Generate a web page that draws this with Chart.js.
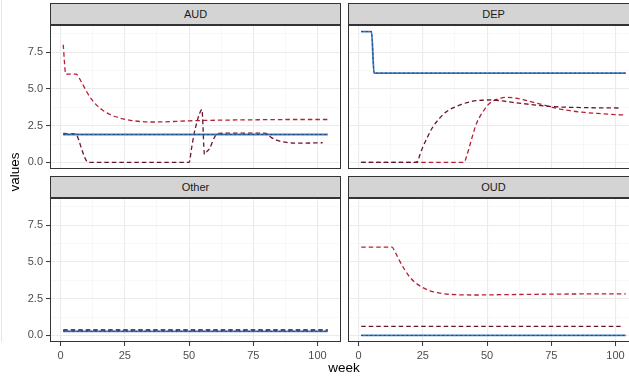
<!DOCTYPE html>
<html>
<head>
<meta charset="utf-8">
<script src="https://cdn.jsdelivr.net/npm/chart.js@4.4.1/dist/chart.umd.min.js"></script>
<style>
  html, body { margin: 0; padding: 0; background: #fff; }
  body { width: 629px; height: 378px; position: relative; overflow: hidden; font-family: "Liberation Sans", Arial, sans-serif; }
  .panel { position: absolute; }
  .strip { position: absolute; height: 22px; box-sizing: border-box; border: 1px solid #333; background: #d4d4d4; color: #1a1a1a; font-size: 11px; font-weight: normal; line-height: 20px; text-align: center; }
  .title { position: absolute; font-size: 13.5px; font-weight: normal; color: #000; white-space: nowrap; text-align: center; }
  .edge { position: absolute; left: 1px; top: 0; width: 1px; height: 342px; background: #e4e4e4; }
</style>
</head>
<body>
<div class="edge"></div>

<div class="strip" style="left:50px; top:3px; width:291px">AUD</div>
<div class="strip" style="left:348px; top:3px; width:291px">DEP</div>
<div class="strip" style="left:50px; top:176px; width:291px">Other</div>
<div class="strip" style="left:348px; top:176px; width:291px">OUD</div>

<canvas id="aud" class="panel" width="341" height="144" style="left:0; top:25px"></canvas>
<canvas id="dep" class="panel" width="291" height="144" style="left:348px; top:25px"></canvas>
<canvas id="other" class="panel" width="341" height="166" style="left:0; top:198px"></canvas>
<canvas id="oud" class="panel" width="291" height="166" style="left:348px; top:198px"></canvas>

<div class="title" style="left:314px; top:360px; width:60px; height:16px; line-height:16px">week</div>
<div class="title" style="left:-15px; top:164px; width:60px; height:16px; line-height:16px; transform:rotate(-90deg)">values</div>

<script>
// Escalas y cortes (como ggplot)
const yBreaks = [0, 2.5, 5, 7.5]
const yMinor = [1.25, 3.75, 6.25, 8.75]
const xBreaks = [0, 25, 50, 75, 100]
const xMinor = [12.5, 37.5, 62.5, 87.5]
const yLimits = [-0.445, 9.345]
const xLimits = [-4.15, 109.15]

// AUD
const audBlueWeeks = [1, 104]
const audBlueValues = [1.9, 1.9]
const audMaroonWeeks = [1, 5, 6, 7, 8, 9, 10, 11, 50, 51, 52, 53, 54, 55, 56, 57, 58, 59, 60, 61, 62, 70, 78, 80, 81, 82, 84, 86, 88, 91, 95, 102]
const audMaroonValues = [1.97, 1.95, 1.92, 1.55, 1.0, 0.5, 0.12, 0, 0, 1.0, 2.0, 2.7, 3.3, 3.6, 0.55, 0.75, 0.95, 1.35, 1.75, 1.95, 1.98, 2.0, 2.0, 1.98, 1.85, 1.7, 1.52, 1.42, 1.36, 1.32, 1.32, 1.34]
const audRedWeeks = [1, 2, 6, 8, 10, 12, 14, 16, 18, 20, 23, 26, 30, 35, 40, 50, 60, 75, 90, 104]
const audRedValues = [8.0, 6.0, 6.0, 5.5, 4.85, 4.3, 3.9, 3.6, 3.37, 3.2, 3.02, 2.9, 2.8, 2.75, 2.76, 2.83, 2.87, 2.9, 2.92, 2.92]

// DEP
const depBlueWeeks = [1, 5, 6, 104]
const depBlueValues = [8.9, 8.9, 6.07, 6.07]
const depMaroonWeeks = [1, 22, 23, 24, 25, 27, 29, 31, 33, 35, 37, 40, 44, 48, 52, 56, 60, 65, 70, 75, 80, 85, 90, 96, 102]
const depMaroonValues = [0, 0, 0.1, 0.6, 1.05, 1.8, 2.45, 2.9, 3.28, 3.55, 3.73, 3.95, 4.15, 4.23, 4.25, 4.18, 4.08, 3.98, 3.88, 3.8, 3.76, 3.74, 3.72, 3.71, 3.7]
const depRedWeeks = [1, 41, 42, 43, 44, 45, 46, 47, 48, 49, 50, 52, 55, 58, 61, 64, 67, 70, 74, 78, 83, 88, 93, 98, 104]
const depRedValues = [0, 0, 0.4, 1.0, 1.6, 2.2, 2.7, 3.05, 3.35, 3.6, 3.85, 4.15, 4.35, 4.43, 4.38, 4.27, 4.13, 4.0, 3.82, 3.65, 3.5, 3.4, 3.33, 3.27, 3.22]

// Other
const otherBlueWeeks = [1, 104]
const otherBlueValues = [0.28, 0.28]
const otherMaroonWeeks = [1, 104]
const otherMaroonValues = [0.33, 0.33]
const otherRedWeeks = [1, 104]
const otherRedValues = [0.4, 0.4]

// OUD
const oudBlueWeeks = [1, 104]
const oudBlueValues = [0, 0]
const oudMaroonWeeks = [1, 102]
const oudMaroonValues = [0.62, 0.62]
const oudRedWeeks = [1, 13, 14, 15, 16, 18, 20, 22, 25, 28, 31, 35, 40, 45, 55, 70, 85, 104]
const oudRedValues = [6.0, 6.0, 5.75, 5.4, 5.05, 4.45, 3.95, 3.6, 3.25, 3.02, 2.9, 2.8, 2.76, 2.75, 2.77, 2.8, 2.82, 2.83]

const colors = {
  blue: "#3a7bc2",
  dots: "#26406a",
  maroon: "#67152e",
  red: "#b81f33",
  grid: "#ebebeb",
  minor: "#f3f3f3",
  border: "#333333",
  tickText: "#4d4d4d",
}

// Borde del panel (theme_bw)
const panelBorder = {
  id: "panelBorder",
  afterDraw(chart) {
    const { ctx, chartArea: a } = chart
    ctx.save()
    ctx.strokeStyle = colors.border
    ctx.lineWidth = 1
    ctx.strokeRect(Math.round(a.left) + 0.5, Math.round(a.top) + 0.5, Math.round(a.width) - 1, Math.round(a.height) - 1)
    ctx.restore()
  },
}

function line(weeks, values, color, width, dash) {
  return {
    data: weeks.map((w, i) => ({ x: w, y: values[i] })),
    borderColor: color,
    borderWidth: width,
    borderDash: dash,
    pointRadius: 0,
    fill: false,
    cubicInterpolationMode: "monotone",
  }
}

function scale(breaks, minor, limits, showLabels, axis) {
  const isMajor = (ctx) => ctx.tick && breaks.includes(ctx.tick.value)
  return {
    type: "linear",
    position: axis === "y" ? "left" : "bottom",
    min: limits[0],
    max: limits[1],
    afterBuildTicks: (s) => {
      s.ticks = breaks.concat(minor).sort((a, b) => a - b).map((v) => ({ value: v }))
    },
    afterFit: (s) => {
      if (axis === "y") s.width = showLabels ? 50 : 0
      else s.height = showLabels ? 22 : 0
      // sin relleno extra alrededor del panel
      s.paddingTop = 0
      s.paddingBottom = 0
      s.paddingLeft = 0
      s.paddingRight = 0
    },
    border: { display: false },
    grid: {
      color: (c) => (isMajor(c) ? colors.grid : colors.minor),
      lineWidth: (c) => (isMajor(c) ? 1.1 : 0.6),
      drawTicks: showLabels,
      tickLength: 4,
      tickWidth: 1,
      tickColor: (c) => (isMajor(c) ? colors.border : "rgba(0,0,0,0)"),
    },
    ticks: {
      display: showLabels,
      autoSkip: false,
      maxRotation: 0,
      padding: 3,
      color: colors.tickText,
      font: { family: "Liberation Sans", size: 11 },
      callback: (v) => (breaks.includes(v) ? (axis === "y" ? v.toFixed(1) : String(v)) : ""),
    },
  }
}

function panel(id, blue, maroon, red, showY, showX) {
  new Chart(document.getElementById(id), {
    type: "line",
    data: {
      datasets: [
        line(blue[0], blue[1], colors.dots, 0.9, [2, 2.5]),
        line(blue[0], blue[1], colors.blue, 1.8, []),
        line(maroon[0], maroon[1], colors.maroon, 1.3, [4.5, 3]),
        line(red[0], red[1], colors.red, 1.3, [4.5, 3]),
      ],
    },
    options: {
      responsive: false,
      animation: false,
      layout: { padding: 0 },
      plugins: { legend: { display: false }, tooltip: { enabled: false } },
      scales: {
        x: scale(xBreaks, xMinor, xLimits, showX, "x"),
        y: scale(yBreaks, yMinor, yLimits, showY, "y"),
      },
    },
    plugins: [panelBorder],
  })
}

panel("aud", [audBlueWeeks, audBlueValues], [audMaroonWeeks, audMaroonValues], [audRedWeeks, audRedValues], true, false)
panel("dep", [depBlueWeeks, depBlueValues], [depMaroonWeeks, depMaroonValues], [depRedWeeks, depRedValues], false, false)
panel("other", [otherBlueWeeks, otherBlueValues], [otherMaroonWeeks, otherMaroonValues], [otherRedWeeks, otherRedValues], true, true)
panel("oud", [oudBlueWeeks, oudBlueValues], [oudMaroonWeeks, oudMaroonValues], [oudRedWeeks, oudRedValues], false, true)
</script>
</body>
</html>
